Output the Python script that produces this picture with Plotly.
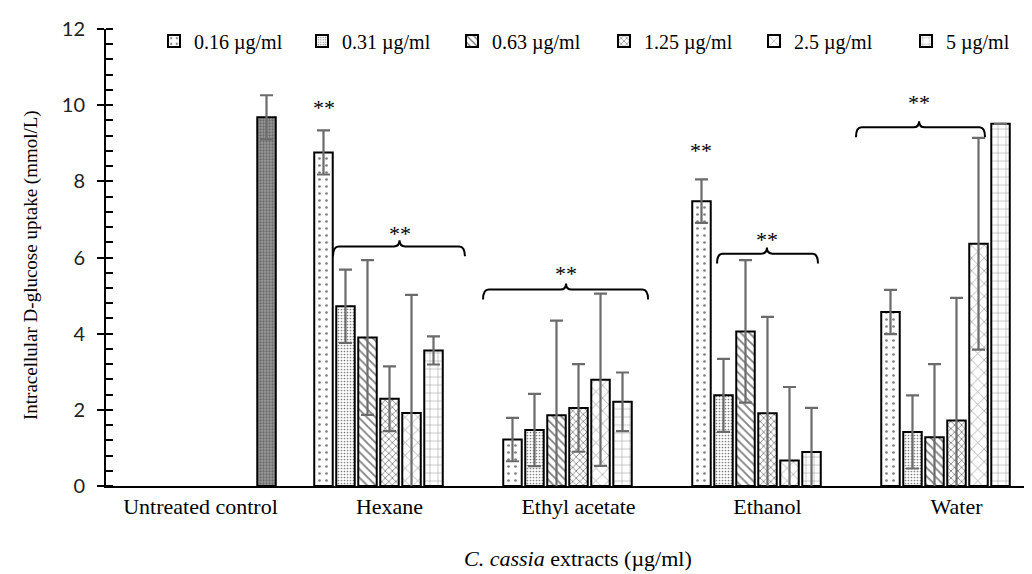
import plotly.graph_objects as go

# ---------------- data ----------------
categories = ["Untreated control", "Hexane", "Ethyl acetate", "Ethanol", "Water"]
cat_pos = [0, 1, 2, 3, 4]
series_names = ["0.16 µg/ml", "0.31 µg/ml", "0.63 µg/ml", "1.25 µg/ml", "2.5 µg/ml", "5 µg/ml"]

val_016 = [None, 8.76, 1.22, 7.48, 4.57]
val_031 = [None, 4.72, 1.47, 2.38, 1.42]
val_063 = [None, 3.90, 1.86, 4.06, 1.28]
val_125 = [None, 2.29, 2.05, 1.91, 1.72]
val_25 = [None, 1.92, 2.79, 0.67, 6.36]
val_5 = [None, 3.56, 2.21, 0.89, 9.51]

err_016 = [None, 0.58, 0.57, 0.57, 0.58]
err_031 = [None, 0.96, 0.95, 0.96, 0.96]
err_063 = [None, 2.03, 2.48, 1.87, 1.92]
err_125 = [None, 0.85, 1.15, 2.53, 3.22]
err_25 = [None, 3.10, 2.26, 1.93, 2.78]
err_5 = [None, 0.37, 0.77, 1.16, None]

control_val = [9.68, None, None, None, None]
control_err = [0.58, None, None, None, None]

y_ticks = [0, 2, 4, 6, 8, 10, 12]

# significance brackets: (left, right, centre, level) in axis units
bracket_x0 = [0.701, 1.495, 2.733, 3.468]
bracket_x1 = [1.399, 2.368, 3.267, 4.151]
bracket_xc = [1.053, 1.934, 2.997, 3.802]
bracket_y = [6.29, 5.16, 6.10, 9.42]
# star labels
star_x = [0.651, 1.053, 1.934, 2.648, 2.997, 3.802]
star_y = [9.95, 6.62, 5.59, 8.80, 6.46, 10.06]

# ---------------- styles ----------------
patterns = [
    dict(shape=".", size=7, solidity=0.12),
    dict(shape=".", size=3, solidity=0.25),
    dict(shape="\\", size=6, solidity=0.3),
    dict(shape="x", size=5, solidity=0.3),
    dict(shape="x", size=9, solidity=0.12),
    dict(shape="+", size=8, solidity=0.1),
]
series_vals = [val_016, val_031, val_063, val_125, val_25, val_5]
series_errs = [err_016, err_031, err_063, err_125, err_25, err_5]
legend_ids = ["legend", "legend2", "legend3", "legend4", "legend5", "legend6"]
legend_box_px = [160, 308, 458, 610, 760, 912]   # left edge of legend swatches

SERIF = "Liberation Serif"
err_color = "#6b6b6b"
plot_l, plot_t, plot_b = 98, 21, 478
plot_w = 1032 - plot_l
plot_h = plot_b - plot_t

fig = go.Figure()
for name, vals, errs, pat, lid in zip(series_names, series_vals, series_errs, patterns, legend_ids):
    fig.add_trace(go.Bar(
        x=cat_pos, y=vals, name=name, legend=lid,
        marker=dict(color="white",
                    line=dict(color="black", width=2),
                    pattern=dict(fgcolor="black", bgcolor="white", **pat)),
        error_y=dict(type="data", array=errs, visible=True,
                     color=err_color, thickness=2.2, width=6.5),
    ))

fig.add_trace(go.Bar(
    x=cat_pos, y=control_val, name="Untreated control", showlegend=False,
    marker=dict(color="#7c7c7c",
                line=dict(color="black", width=2),
                pattern=dict(shape=".", size=3, solidity=0.45,
                             fgcolor="#3a3a3a", bgcolor="#9a9a9a")),
    error_y=dict(type="data", array=control_err, visible=True,
                 color=err_color, thickness=2.2, width=6.5),
))

# brackets
shapes = []
d = 0.26   # drop at ends
t = 0.16   # central tip
e = 0.03
for x0, x1, xc, y in zip(bracket_x0, bracket_x1, bracket_xc, bracket_y):
    path = (f"M {x0},{y-d} Q {x0},{y} {x0+e},{y} L {xc-e},{y} "
            f"Q {xc},{y} {xc},{y+t} Q {xc},{y} {xc+e},{y} "
            f"L {x1-e},{y} Q {x1},{y} {x1},{y-d}")
    shapes.append(dict(type="path", path=path, xref="x", yref="y",
                       line=dict(color="black", width=2)))

annotations = []
for sx, sy in zip(star_x, star_y):
    annotations.append(dict(x=sx, y=sy, xref="x", yref="y", text="**",
                            showarrow=False, xanchor="center", yanchor="middle",
                            font=dict(family=SERIF, size=22, color="black")))

annotations.append(dict(
    x=(23 - plot_l) / plot_w, y=(plot_b - 257) / plot_h, xref="paper", yref="paper",
    text="Intracellular D-glucose uptake (mmol/L)", textangle=-90,
    showarrow=False, xanchor="center", yanchor="middle",
    font=dict(family=SERIF, size=19, color="black")))
annotations.append(dict(
    x=(570 - plot_l) / plot_w, y=(plot_b - 550) / plot_h, xref="paper", yref="paper",
    text="<i>C. cassia</i> extracts (µg/ml)",
    showarrow=False, xanchor="center", yanchor="middle",
    font=dict(family=SERIF, size=22, color="black")))

legend_layouts = {}
for lid, bx in zip(legend_ids, legend_box_px):
    legend_layouts[lid] = dict(
        x=(bx - 14 - plot_l) / plot_w, y=(plot_b - 33) / plot_h,
        xanchor="left", yanchor="middle",
        font=dict(family=SERIF, size=20, color="black"),
        bgcolor="rgba(0,0,0,0)", borderwidth=0)

fig.update_layout(
    width=1032, height=574,
    margin=dict(l=plot_l, r=0, t=plot_t, b=574 - plot_b, autoexpand=False),
    paper_bgcolor="white", plot_bgcolor="white",
    barmode="group", bargap=0.185, bargroupgap=0.16,
    shapes=shapes, annotations=annotations,
    xaxis=dict(range=[-0.5, -0.5 + plot_w / 189], tickmode="array",
               tickvals=cat_pos, ticktext=categories, ticks="",
               showline=True, linecolor="black", linewidth=2,
               showgrid=False, zeroline=False,
               tickfont=dict(family=SERIF, size=22, color="black")),
    yaxis=dict(range=[0, 12], tickmode="array", tickvals=y_ticks,
               ticks="outside", ticklen=7, tickwidth=1.5, tickcolor="black",
               ticklabelstandoff=8,
               minor=dict(dtick=0.4, ticks="inside", ticklen=7,
                          tickwidth=1.5, tickcolor="black", showgrid=False),
               showline=True, linecolor="black", linewidth=2,
               showgrid=False, zeroline=False,
               tickfont=dict(family="Lato", size=20, color="#222")),
    showlegend=True,
    **legend_layouts,
)

fig.write_html("out.html")
